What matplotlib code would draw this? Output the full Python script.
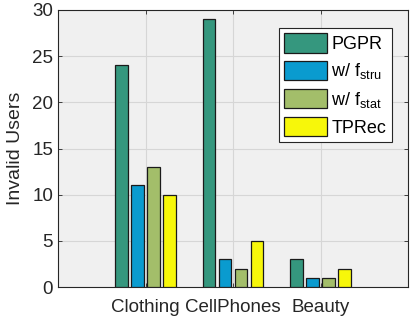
import numpy as np
import matplotlib
matplotlib.use("Agg")
import matplotlib.pyplot as plt

plt.rcParams['font.family'] = ['Liberation Sans', 'DejaVu Sans']
plt.rcParams['mathtext.fontset'] = 'custom'
plt.rcParams['mathtext.rm'] = 'Liberation Sans'

categories = ["Clothing", "CellPhones", "Beauty"]
series = ["PGPR", r"w/ f$_{\mathrm{stru}}$", r"w/ f$_{\mathrm{stat}}$", "TPRec"]
values = [
    [24, 29, 3],   # PGPR
    [11, 3, 1],    # w/ f_stru
    [13, 2, 1],    # w/ f_stat
    [10, 5, 2],    # TPRec
]
colors = ["#35977E", "#0A9BCF", "#A3BE6A", "#F7F70A"]

fig = plt.figure(figsize=(4.15, 3.23), dpi=100)
ax = fig.add_axes([58 / 415, 1 - 287 / 323, 350 / 415, 277 / 323])
ax.set_facecolor("#F0F0F0")

x = np.arange(1, len(categories) + 1)
pitch = 0.183
width = 0.145
for i, (name, vals, c) in enumerate(zip(series, values, colors)):
    ax.bar(x + (i - 1.5) * pitch, vals, width, color=c, edgecolor="#1a1a1a",
           linewidth=0.9, label=name, zorder=3)

ax.set_xlim(0, 4)
ax.set_ylim(0, 30)
ax.set_xticks(x)
ax.set_xticklabels(categories, fontsize=12.5)
ax.set_yticks(np.arange(0, 31, 5))
ax.set_ylabel("Invalid Users", fontsize=14, color="#262626", labelpad=6)
ax.grid(True, color="#d6d6d6", linewidth=0.8, zorder=0)
ax.tick_params(axis="both", direction="in", top=True, right=True,
               labelsize=13.5, colors="#262626", length=3, width=0.6)
ax.tick_params(axis="x", pad=9)
for s in ax.spines.values():
    s.set_color("#262626")
    s.set_linewidth(0.8)

leg = ax.legend(loc="upper left", bbox_to_anchor=(221 / 350, 0.935), fontsize=13,
                fancybox=False, framealpha=1, edgecolor="#262626",
                handlelength=2.35, handleheight=1.3, labelspacing=0.4,
                handletextpad=0.25, borderpad=0.3, borderaxespad=0)
leg.get_frame().set_linewidth(0.8)

fig.savefig("out.png", dpi=100)
